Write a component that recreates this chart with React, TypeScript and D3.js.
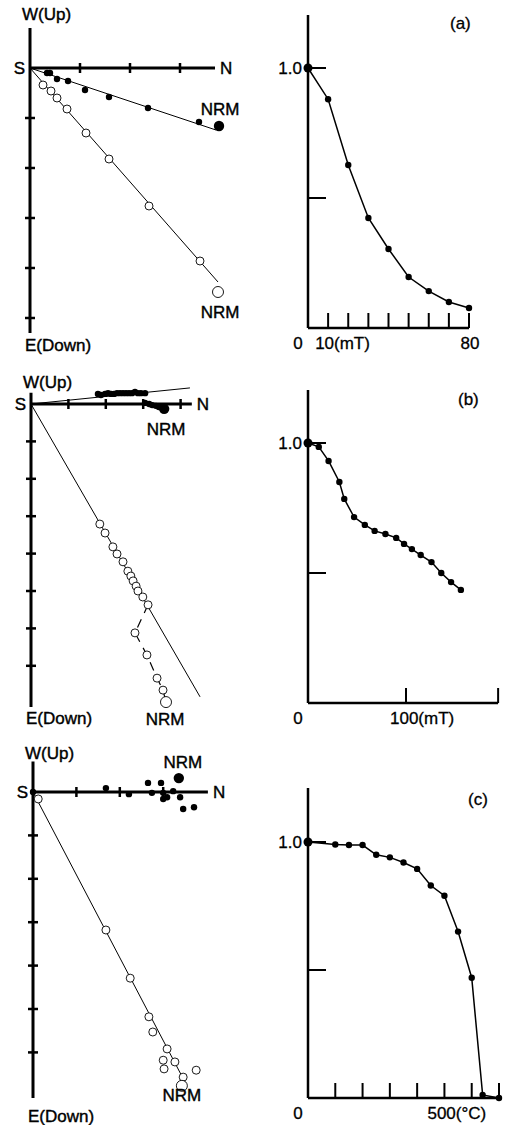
import React from 'react'
import * as d3 from 'd3'

// Zijderveld diagrams, values in axis-tick units
// horizontal projection: [N, E] (closed), vertical projection: [N, Down] (open)
// the last point of each list is the NRM
const horizA = [[0.34, 0.1], [0.4, 0.1], [0.54, 0.22], [0.76, 0.26], [1.1, 0.44], [1.58, 0.58], [2.36, 0.8], [3.38, 1.08], [3.78, 1.16]]
const vertA = [[0.26, 0.34], [0.42, 0.46], [0.54, 0.6], [0.74, 0.82], [1.12, 1.3], [1.58, 1.82], [2.38, 2.76], [3.4, 3.86], [3.76, 4.48]]
const fitA = [[3.72, 1.24], [3.76, 4.28]]

const horizB = [[1.79, -0.27], [1.87, -0.24], [1.98, -0.27], [2.06, -0.29], [2.14, -0.27], [2.22, -0.27], [2.3, -0.29], [2.38, -0.29], [2.46, -0.29], [2.54, -0.29], [2.62, -0.29], [2.7, -0.29], [2.78, -0.32], [2.86, -0.29], [2.94, -0.29], [3.05, -0.29], [3.05, -0.03], [3.16, 0], [3.24, 0.03], [3.34, 0.05], [3.42, 0.08], [3.56, 0.13]]
const vertB = [[1.84, 3.21], [1.98, 3.45], [2.19, 3.82], [2.3, 4.01], [2.46, 4.22], [2.59, 4.47], [2.67, 4.6], [2.73, 4.73], [2.81, 4.87], [2.86, 5.0], [2.99, 5.16], [3.13, 5.37], [2.78, 6.12], [3.1, 6.71], [3.37, 7.33], [3.53, 7.65], [3.61, 7.97]]
const fitB = [[4.25, -0.43], [4.52, 7.83]]

const horizC = [[0, 0], [1.68, -0.09], [2.21, 0.05], [2.65, -0.21], [2.95, -0.21], [2.74, 0.02], [3.0, 0.02], [3.09, 0.12], [3.0, 0.16], [3.23, -0.02], [3.39, 0.12], [3.46, 0.39], [3.71, 0.35], [3.36, -0.32]]
const vertC = [[0.12, 0.16], [1.68, 3.18], [2.24, 4.29], [2.67, 5.18], [2.76, 5.53], [3.09, 5.92], [3.0, 6.18], [3.27, 6.22], [3.02, 6.38], [3.76, 6.41], [3.46, 6.57], [3.43, 6.77]]
const fitC = [null, [3.5, 6.68]]

// demagnetization curves (J/J0)
const fieldA = [0, 10, 20, 30, 40, 50, 60, 70, 80]
const intensityA = [1.0, 0.88, 0.627, 0.423, 0.304, 0.196, 0.142, 0.1, 0.077]
const fieldB = [0, 11, 21, 32, 37, 47, 58, 68, 79, 90, 98, 106, 115, 126, 136, 146, 156]
const intensityB = [1.0, 0.985, 0.931, 0.85, 0.785, 0.715, 0.685, 0.662, 0.65, 0.635, 0.612, 0.592, 0.569, 0.542, 0.5, 0.465, 0.435]
const tempC = [0, 100, 150, 200, 250, 300, 350, 400, 450, 500, 550, 600, 640, 700]
const intensityC = [1.0, 0.99, 0.988, 0.988, 0.95, 0.94, 0.92, 0.895, 0.83, 0.79, 0.65, 0.47, 0.012, 0]

const ticksA = [10, 20, 30, 40, 50, 60, 70, 80]
const ticksB = [100, 194]
const ticksC = [100, 200, 300, 400, 500, 600, 700]

const font = 'Liberation Sans, Arial, Helvetica, sans-serif'

const Zijderveld = ({ox, oy, unit, xEnd, yTop, yEnd, nx, ny, horiz, vert, fit, dashFrom, nrmH, nrmV, wY, eY}) => {
  const x = d3.scaleLinear().domain([0, 1]).range([ox, ox + unit])
  const y = d3.scaleLinear().domain([0, 1]).range([oy, oy + unit])
  const line = d3.line().x(d => x(d[0])).y(d => y(d[1]))
  const hN = horiz[horiz.length - 1]
  const vN = vert[vert.length - 1]
  return (
    <g fontFamily={font} fontSize={17} fill="#000">
      {fit.map((f, i) => f && (
        <path key={'f' + i} d={line([[0, 0], f])} stroke="#000" strokeWidth={1} fill="none" />
      ))}
      {dashFrom != null && (
        <path d={line(vert.slice(dashFrom))} stroke="#000" strokeWidth={1.2} fill="none" strokeDasharray="9 7" />
      )}
      <line x1={x(0)} x2={x(xEnd)} y1={y(0)} y2={y(0)} stroke="#000" strokeWidth={3} />
      <line x1={x(0)} x2={x(0)} y1={y(yTop)} y2={y(yEnd)} stroke="#000" strokeWidth={3} />
      {d3.range(1, nx + 1).map(t => (
        <line key={'tx' + t} x1={x(t)} x2={x(t)} y1={y(0) - 5} y2={y(0) + 5} stroke="#000" strokeWidth={2.5} />
      ))}
      {d3.range(1, ny + 1).map(t => (
        <line key={'ty' + t} x1={x(0) - 5} x2={x(0) + 5} y1={y(t)} y2={y(t)} stroke="#000" strokeWidth={2.5} />
      ))}
      {horiz.map((d, i) => (
        <circle key={'h' + i} cx={x(d[0])} cy={y(d[1])} r={i === horiz.length - 1 ? 5.2 : 3.2} fill="#000" />
      ))}
      {vert.map((d, i) => (
        <circle key={'v' + i} cx={x(d[0])} cy={y(d[1])} r={i === vert.length - 1 ? 5.5 : 4} fill="#fff" stroke="#000" strokeWidth={0.9} />
      ))}
      <g stroke="#000" strokeWidth={0.4}>
        <text x={x(0) - 8} y={wY}>W(Up)</text>
        <text x={x(0) - 5} y={eY}>E(Down)</text>
        <text x={x(0) - 5} y={y(0) + 6} textAnchor="end">S</text>
        <text x={x(xEnd) + 5} y={y(0) + 6}>N</text>
        <text x={x(hN[0]) + nrmH[0]} y={y(hN[1]) + nrmH[1]} textAnchor="middle">NRM</text>
        <text x={x(vN[0]) + nrmV[0]} y={y(vN[1]) + nrmV[1]} textAnchor="middle">NRM</text>
      </g>
    </g>
  )
}

const Demag = ({x, y, xEnd, top, ticks, steps, values, unitLabel, unitTick, unitDx, endLabel, letter, letterPos}) => {
  const line = d3.line().x(d => x(d[0])).y(d => y(d[1]))
  const pts = steps.map((s, i) => [s, values[i]])
  return (
    <g fontFamily={font} fontSize={17} fill="#000">
      <line x1={x(0)} x2={x(0)} y1={top} y2={y(0)} stroke="#000" strokeWidth={2.5} />
      <line x1={x(0)} x2={x(xEnd)} y1={y(0)} y2={y(0)} stroke="#000" strokeWidth={2.5} />
      {ticks.map(t => (
        <line key={'t' + t} x1={x(t)} x2={x(t)} y1={y(0)} y2={y(0) - 15} stroke="#000" strokeWidth={2} />
      ))}
      {[1, 0.5].map(v => (
        <line key={'v' + v} x1={x(0)} x2={x(0) + 18} y1={y(v)} y2={y(v)} stroke="#000" strokeWidth={2} />
      ))}
      <path d={line(pts)} stroke="#000" strokeWidth={1.5} fill="none" />
      {pts.map((d, i) => (
        <circle key={'p' + i} cx={x(d[0])} cy={y(d[1])} r={i === 0 ? 4.5 : 3.2} fill="#000" />
      ))}
      <g stroke="#000" strokeWidth={0.3}>
        <text x={x(0) - 6} y={y(1) + 6} textAnchor="end">1.0</text>
        <text x={x(0) - 10} y={y(0) + 21} textAnchor="middle">0</text>
        <text x={x(unitTick) + unitDx} y={y(0) + 21}>{unitLabel}</text>
        {endLabel && <text x={x(xEnd) + 1} y={y(0) + 21} textAnchor="middle">{endLabel}</text>}
        <text x={letterPos[0]} y={letterPos[1]}>{letter}</text>
      </g>
    </g>
  )
}

const App = () => {
  const xA = d3.scaleLinear().domain([0, 80]).range([308, 469])
  const yA = d3.scaleLinear().domain([0, 1]).range([328, 68])
  const xB = d3.scaleLinear().domain([0, 100]).range([308, 406])
  const yB = d3.scaleLinear().domain([0, 1]).range([703, 443])
  const xC = d3.scaleLinear().domain([0, 700]).range([308, 499])
  const yC = d3.scaleLinear().domain([0, 1]).range([1098, 842])
  return (
    <svg width={505} height={1125} style={{position: 'absolute', left: 0, top: 0, background: '#fff'}}>
      <rect width={505} height={1125} fill="#fff" />
      <Zijderveld ox={30} oy={68} unit={50} xEnd={3.7} yTop={-0.8} yEnd={5.3} nx={3} ny={5}
        horiz={horizA} vert={vertA} fit={fitA} dashFrom={null}
        nrmH={[1, -11]} nrmV={[2, 26]} wY={20} eY={351} />
      <Zijderveld ox={31} oy={404} unit={37.4} xEnd={4.3} yTop={-0.3} yEnd={8.1} nx={4} ny={7}
        horiz={horizB} vert={vertB} fit={fitB} dashFrom={11}
        nrmH={[2, 26]} nrmV={[-1, 23]} wY={388} eY={724} />
      <Zijderveld ox={33} oy={792} unit={43.4} xEnd={4.03} yTop={-0.7} yEnd={7.05} nx={3} ny={6}
        horiz={horizC} vert={vertC} fit={fitC} dashFrom={null}
        nrmH={[4, -10]} nrmV={[0, 15]} wY={759} eY={1122} />
      <Demag x={xA} y={yA} xEnd={80} top={15} ticks={ticksA} steps={fieldA} values={intensityA}
        unitLabel="10(mT)" unitTick={10} unitDx={-13} endLabel="80" letter="(a)" letterPos={[450, 29]} />
      <Demag x={xB} y={yB} xEnd={194} top={390} ticks={ticksB} steps={fieldB} values={intensityB}
        unitLabel="100(mT)" unitTick={100} unitDx={-16} endLabel={null} letter="(b)" letterPos={[458, 405]} />
      <Demag x={xC} y={yC} xEnd={700} top={788} ticks={ticksC} steps={tempC} values={intensityC}
        unitLabel="500(°C)" unitTick={500} unitDx={-17} endLabel={null} letter="(c)" letterPos={[468, 805]} />
    </svg>
  )
}

export default App
